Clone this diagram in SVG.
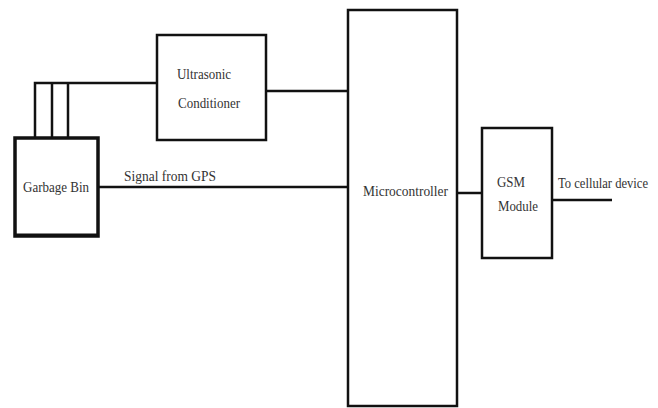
<svg xmlns="http://www.w3.org/2000/svg" width="658" height="408" viewBox="0 0 658 408">
<style>
.box{fill:#fff;stroke:#111;stroke-width:2.5}
.ln{fill:none;stroke:#111;stroke-width:2.5}
.t{font-family:"Liberation Serif","Times New Roman",Times,serif;font-size:15px;fill:#333}
</style>
<rect width="658" height="408" fill="#fff"/>
<g id="connectors">
<path class="ln" d="M35,137 V83 H157"/>
<path class="ln" d="M52,137 V83"/>
<path class="ln" d="M68,137 V83"/>
<path class="ln" d="M266,91 H348"/>
<path class="ln" d="M98,187 H348"/>
<path class="ln" d="M457,193 H482"/>
<path class="ln" d="M552,200 H612"/>
<text class="t" x="124" y="181" textLength="92" lengthAdjust="spacingAndGlyphs">Signal from GPS</text>
<text class="t" x="558" y="188" textLength="90" lengthAdjust="spacingAndGlyphs" style="font-size:14px">To cellular device</text>
</g>
<g id="garbage-bin">
<rect class="box" x="15" y="138" width="83" height="98" style="stroke-width:3.5"/>
<line x1="14" y1="235" x2="99" y2="235" stroke="#111" stroke-width="3"/>
<text class="t" x="23" y="192" textLength="66" lengthAdjust="spacingAndGlyphs">Garbage Bin</text>
</g>
<g id="ultrasonic">
<rect class="box" x="157" y="35" width="109" height="105"/>
<text class="t" x="177" y="79" textLength="54" lengthAdjust="spacingAndGlyphs">Ultrasonic</text>
<text class="t" x="178" y="108" textLength="62" lengthAdjust="spacingAndGlyphs">Conditioner</text>
</g>
<g id="microcontroller">
<rect class="box" x="348" y="10" width="109" height="396"/>
<text class="t" x="363" y="196" textLength="85" lengthAdjust="spacingAndGlyphs">Microcontroller</text>
</g>
<g id="gsm">
<rect class="box" x="482" y="128" width="70" height="130"/>
<text class="t" x="497" y="187" textLength="28" lengthAdjust="spacingAndGlyphs">GSM</text>
<text class="t" x="498" y="211" textLength="40" lengthAdjust="spacingAndGlyphs">Module</text>
</g>
</svg>
